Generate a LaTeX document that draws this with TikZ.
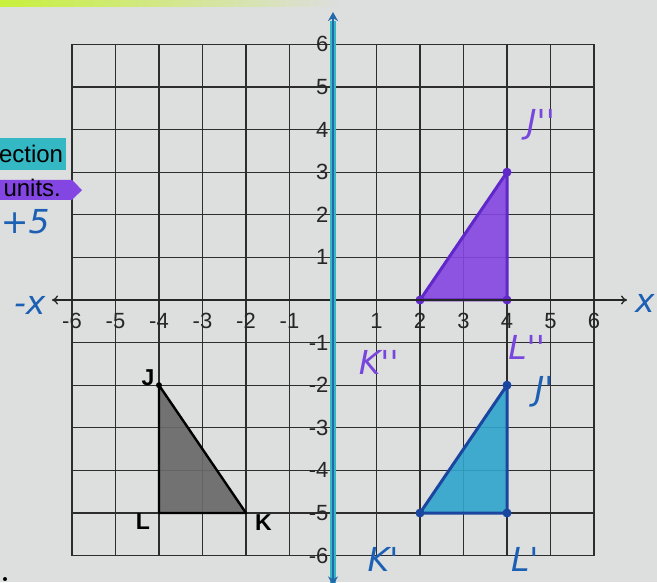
\documentclass[tikz,border=0pt]{standalone}
\usepackage{fontspec}
\setmainfont{Liberation Sans}
\newfontfamily\hand{DejaVu Sans}
\usetikzlibrary{arrows.meta}
\definecolor{paper}{RGB}{221,222,222}
\definecolor{hlgreen}{RGB}{200,240,60}
\definecolor{tealax}{RGB}{52,184,196}
\definecolor{tealfill}{RGB}{46,165,204}
\definecolor{tealedge}{RGB}{26,70,160}
\definecolor{purfill}{RGB}{132,70,226}
\definecolor{puredge}{RGB}{96,40,200}
\definecolor{purtext}{RGB}{120,70,220}
\definecolor{bluetext}{RGB}{28,96,180}
\definecolor{gridc}{RGB}{45,45,45}
\definecolor{grayfill}{RGB}{105,105,105}
\newcommand{\pr}{{\char"0027}}
\tikzset{
  gridline/.style={draw=gridc, line width=1.3pt},
  tick/.style={font=\fontsize{22}{22}\selectfont, text=black!85, inner sep=0pt},
  ptlabel/.style={font=\fontsize{23}{23}\selectfont\bfseries, text=black, inner sep=0pt},
  handblue/.style={font=\hand\itshape\fontsize{33}{33}\selectfont, text=bluetext, inner sep=0pt},
  handpur/.style={font=\hand\itshape\fontsize{33}{33}\selectfont, text=purtext, inner sep=0pt},
  vdot/.style={circle, inner sep=0pt, minimum size=6pt},
}
\begin{document}
\begin{tikzpicture}[x=43.5pt,y=42.6pt]
\useasboundingbox (-7.655,-6.620) rectangle (7.448,7.042);
\fill[paper] (-7.655,-6.620) rectangle (7.448,7.042);
\shade[left color=hlgreen, right color=paper] (-7.655,6.90) rectangle (0.2,7.042);
% grid
\foreach \g in {-6,...,6} {
  \draw[gridline] (\g,-6) -- (\g,6);
  \draw[gridline] (-6,\g) -- (6,\g);
}
% left highlighted texts
\fill[tealax] (-7.7,3.05) rectangle (-6.14,3.80);
\node[anchor=east, font=\fontsize{24}{24}\selectfont, inner sep=0pt] (sect) at (-6.2,3.42) {ection};
\fill[purfill] (-7.7,2.82) -- (-6.0,2.82) -- (-5.77,2.58) -- (-6.0,2.35) -- (-7.7,2.35) -- cycle;
\node[anchor=east, font=\fontsize{24}{24}\selectfont, inner sep=0pt] (sunits) at (-6.25,2.62) {units.};
\node[handblue, anchor=west] (plusfive) at (-7.64,1.83) {+5};
% triangles
\coordinate (J) at (-4,-2); \coordinate (K) at (-2,-5); \coordinate (L) at (-4,-5);
\coordinate (J1) at (4,-2); \coordinate (K1) at (2,-5); \coordinate (L1) at (4,-5);
\coordinate (J2) at (4,3); \coordinate (K2) at (2,0); \coordinate (L2) at (4,0);
\filldraw[fill=grayfill, fill opacity=0.92, draw=black, line width=2.4pt, line join=round] (J) -- (K) -- (L) -- cycle;
\filldraw[fill=tealfill, fill opacity=0.9, draw=tealedge, line width=3pt, line join=round] (J1) -- (K1) -- (L1) -- cycle;
\filldraw[fill=purfill, fill opacity=0.9, draw=puredge, line width=3pt, line join=round] (J2) -- (K2) -- (L2) -- cycle;
\node[vdot, fill=black] at (J) {};
\node[vdot, fill=tealedge, minimum size=9pt] at (J1) {};
\node[vdot, fill=tealedge, minimum size=9pt] at (K1) {};
\node[vdot, fill=tealedge, minimum size=9pt] at (L1) {};
\node[vdot, fill=puredge, minimum size=9pt] at (J2) {};
\node[vdot, fill=puredge, minimum size=9pt] at (K2) {};
\node[vdot, fill=puredge, minimum size=9pt] at (L2) {};
% axes
\coordinate (xl) at (-6.46,0); \coordinate (xr) at (6.76,0);
\coordinate (yb) at (0,-6.70); \coordinate (yt) at (0,6.76);
\draw[black!85, line width=1.3pt, {To[length=6pt,width=9pt]}-{To[length=6pt,width=9pt]}] (xl) -- (xr);
\draw[tealax, line width=6pt] (yb) -- (0,6.55);
\draw[tealedge!70!tealax, line width=1.6pt, {Stealth[length=9pt,width=10pt]}-{Stealth[length=9pt,width=10pt]}] (yb) -- (yt);
% tick labels
\foreach \v in {-6,-5,-4,-3,-2,-1,1,2,3,4,5,6} {
  \node[tick] (tx\v) at (\v,-0.5) {\v};
  \node[tick, anchor=east] (ty\v) at (-0.1,\v) {\v};
}
% point labels
\node[ptlabel] (lJ) at (-4.25,-1.83) {J};
\node[ptlabel] (lL) at (-4.37,-5.21) {L};
\node[ptlabel] (lK) at (-1.6,-5.23) {K};
\node[handblue] (lJ1) at (4.85,-2.15) {J\pr};
\node[handblue] (lK1) at (1.15,-6.10) {K\pr};
\node[handblue] (lL1) at (4.41,-6.10) {L\pr};
\node[handpur] (lJ2) at (4.78,4.11) {J\pr\pr};
\node[handpur] (lK2) at (1.05,-1.46) {K\pr\pr};
\node[handpur] (lL2) at (4.45,-1.12) {L\pr\pr};
\node[handblue] (lx) at (7.17,-0.07) {x};
\node[handblue] (lmx) at (-6.97,-0.12) {-x};
\fill[black] (-7.54,-6.55) circle (2pt);
\end{tikzpicture}
\end{document}
